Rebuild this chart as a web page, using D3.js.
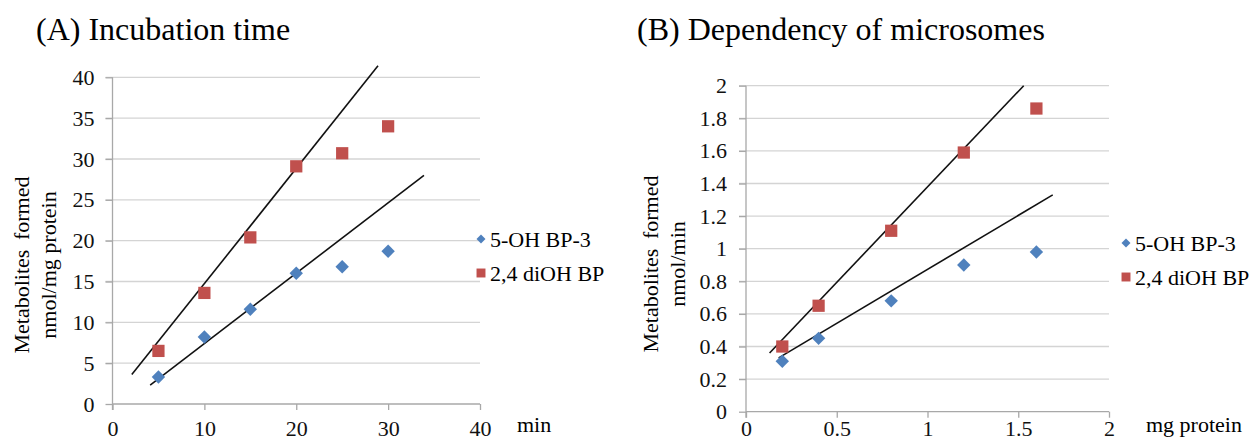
<!DOCTYPE html>
<html>
<head>
<meta charset="utf-8">
<script src="https://cdn.jsdelivr.net/npm/d3@7"></script>
<style>
  html, body { margin: 0; padding: 0; background: #fff; }
</style>
</head>
<body>
<svg class="figure" width="1256" height="445"></svg>
<script>
// (A) incubation time
const minutes = [5, 10, 15, 20, 25, 30];
const ohBp3Time = [3.3, 8.2, 11.6, 16.0, 16.8, 18.7];
const diOhBpTime = [6.5, 13.6, 20.4, 29.1, 30.7, 34.0];
const ohBp3TimeTrend = [[4.1, 2.3], [33.9, 28.0]];
const diOhBpTimeTrend = [[2.1, 3.6], [28.9, 41.4]];
const timeXTicks = [0, 10, 20, 30, 40];
const timeYTicks = [0, 5, 10, 15, 20, 25, 30, 35, 40];

// (B) dependency of microsomes
const proteinMg = [0.2, 0.4, 0.8, 1.2, 1.6];
const ohBp3Protein = [0.31, 0.45, 0.68, 0.90, 0.98];
const diOhBpProtein = [0.40, 0.65, 1.11, 1.59, 1.86];
const ohBp3ProteinTrend = [[0.18, 0.33], [1.69, 1.33]];
const diOhBpProteinTrend = [[0.13, 0.36], [1.53, 2.0]];
const proteinXTicks = [0, 0.5, 1, 1.5, 2];
const proteinXLabels = ['0', '0.5', '1', '1.5', '2'];
const proteinYTicks = [0, 0.2, 0.4, 0.6, 0.8, 1, 1.2, 1.4, 1.6, 1.8, 2];
const proteinYLabels = ['0', '0.2', '0.4', '0.6', '0.8', '1', '1.2', '1.4', '1.6', '1.8', '2'];

const seriesNames = ['5-OH BP-3', '2,4 diOH BP'];
const blue = '#4f81bd';
const red = '#c0504d';
const serif = '"Liberation Serif", "Times New Roman", Times, serif';
const labelSize = 22;

const svg = d3.select('.figure');

const rotSquare = size => d3.symbol().type(d3.symbolSquare).size(size)();

const panel = (g, o) => {
    const x = d3.scaleLinear().domain(o.xDomain).range(o.xRange);
    const y = d3.scaleLinear().domain(o.yDomain).range(o.yRange);

    g.append('text')
        .attr('x', o.titleX).attr('y', 40)
        .attr('font-size', 32)
        .text(o.title);

    // gridlines
    g.append('g').selectAll('line').data(o.yTicks.slice(1)).join('line')
        .attr('x1', x.range()[0] - 7).attr('x2', x.range()[1])
        .attr('y1', d => y(d)).attr('y2', d => y(d))
        .attr('stroke', '#d4d4d4').attr('stroke-width', 1.3);

    // axes
    const yAxis = g.append('g')
        .attr('transform', `translate(${x.range()[0]},0)`)
        .call(d3.axisLeft(y).tickValues(o.yTicks).tickFormat((d, i) => o.yLabels[i]).tickSize(7).tickPadding(o.yPad));
    const xAxis = g.append('g')
        .attr('transform', `translate(0,${y.range()[0]})`)
        .call(d3.axisBottom(x).tickValues(o.xTicks).tickFormat((d, i) => o.xLabels[i]).tickSize(6).tickPadding(o.xPad));

    [yAxis, xAxis].forEach(a => {
        a.attr('font-family', null);
        a.select('.domain').attr('stroke', '#a8a8a8').attr('stroke-width', 1.3);
        a.selectAll('.tick line').attr('stroke', '#a8a8a8').attr('stroke-width', 1.3);
        a.selectAll('.tick text').attr('font-size', labelSize).attr('fill', '#111');
    });
    yAxis.select('.domain').attr('d', `M0,${y.range()[1]}V${y.range()[0] + 6}`);
    xAxis.select('.domain').attr('d', `M${x.range()[0]},0H${x.range()[1]}`);

    // axis titles
    const ay = g.append('g')
        .attr('transform', `translate(${o.yTitleX},${o.yTitleY}) rotate(-90)`);
    ay.append('text').attr('text-anchor', 'middle').attr('font-size', labelSize)
        .attr('word-spacing', 4).text('Metabolites formed');
    ay.append('text').attr('y', o.yTitleGap).attr('text-anchor', 'middle').attr('font-size', labelSize)
        .text(o.yTitle2);

    g.append('text')
        .attr('x', o.xTitleX).attr('y', o.xTitleY)
        .attr('font-size', labelSize)
        .text(o.xTitle);

    // trend lines
    const line = d3.line().x(d => x(d[0])).y(d => y(d[1]));
    g.append('g').selectAll('path').data(o.trends).join('path')
        .attr('d', line)
        .attr('fill', 'none').attr('stroke', '#111').attr('stroke-width', 1.6);

    // markers
    g.append('g').selectAll('path').data(o.xs.map((d, i) => [d, o.blueYs[i]])).join('path')
        .attr('d', rotSquare(90))
        .attr('transform', d => `translate(${x(d[0])},${y(d[1])}) rotate(45)`)
        .attr('fill', blue);
    g.append('g').selectAll('path').data(o.xs.map((d, i) => [d, o.redYs[i]])).join('path')
        .attr('d', rotSquare(150))
        .attr('transform', d => `translate(${x(d[0])},${y(d[1])})`)
        .attr('fill', red);

    // legend
    const lg = g.append('g').attr('transform', `translate(${o.legendX},${o.legendY})`);
    const items = lg.selectAll('g').data(seriesNames).join('g')
        .attr('transform', (d, i) => `translate(0,${i * 34})`);
    items.append('path')
        .attr('d', (d, i) => i === 0 ? rotSquare(40) : rotSquare(80))
        .attr('transform', (d, i) => i === 0 ? 'rotate(45)' : null)
        .attr('fill', (d, i) => i === 0 ? blue : red);
    items.append('text')
        .attr('x', 9).attr('dy', '0.35em')
        .attr('font-size', labelSize)
        .text(d => d);
};

panel(svg.append('g'), {
    title: '(A) Incubation time', titleX: 36,
    xDomain: [0, 40], xRange: [112.5, 480],
    yDomain: [0, 40], yRange: [404, 77.3],
    xTicks: timeXTicks, xLabels: timeXTicks.map(String),
    yTicks: timeYTicks, yLabels: timeYTicks.map(String),
    yPad: 11, xPad: 10,
    yTitleX: 29, yTitleY: 265, yTitleGap: 27, yTitle2: 'nmol/mg protein',
    xTitle: 'min', xTitleX: 517, xTitleY: 432,
    xs: minutes, blueYs: ohBp3Time, redYs: diOhBpTime,
    trends: [ohBp3TimeTrend, diOhBpTimeTrend],
    legendX: 481, legendY: 239
});

panel(svg.append('g'), {
    title: '(B) Dependency of microsomes', titleX: 637,
    xDomain: [0, 2], xRange: [746, 1109],
    yDomain: [0, 2], yRange: [411.7, 85.7],
    xTicks: proteinXTicks, xLabels: proteinXLabels,
    yTicks: proteinYTicks, yLabels: proteinYLabels,
    yPad: 12, xPad: 3,
    yTitleX: 658, yTitleY: 264, yTitleGap: 27, yTitle2: 'nmol/min',
    xTitle: 'mg protein', xTitleX: 1146, xTitleY: 432,
    xs: proteinMg, blueYs: ohBp3Protein, redYs: diOhBpProtein,
    trends: [ohBp3ProteinTrend, diOhBpProteinTrend],
    legendX: 1126, legendY: 243
});

// one serif face for every label
svg.selectAll('text').style('font-family', serif);
</script>
</body>
</html>
